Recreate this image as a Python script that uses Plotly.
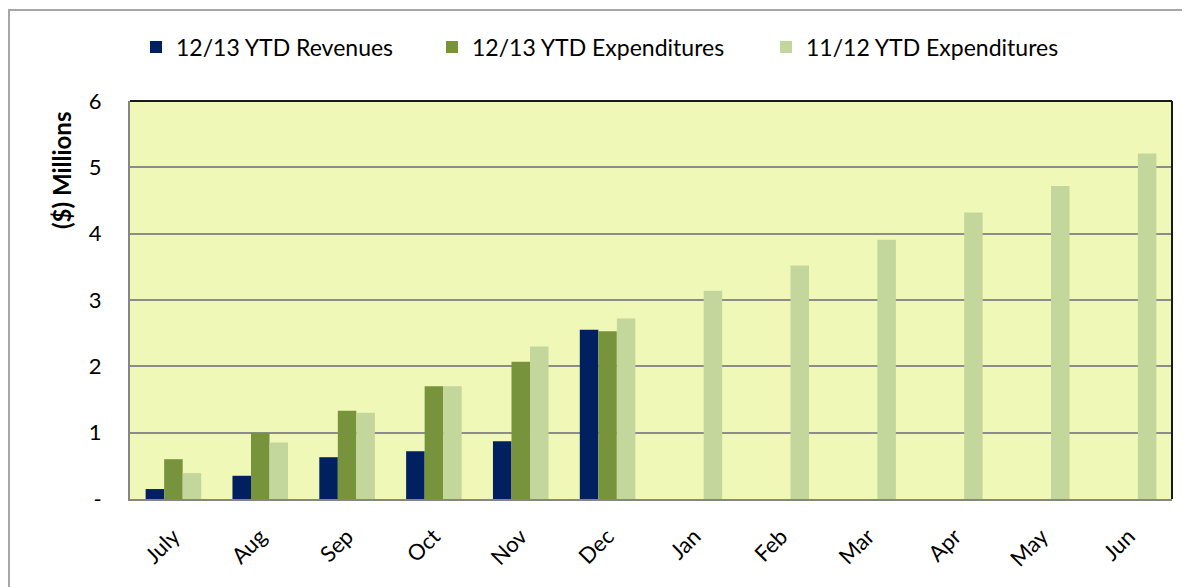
import plotly.graph_objects as go

months = ["July", "Aug", "Sep", "Oct", "Nov", "Dec", "Jan", "Feb", "Mar", "Apr", "May", "Jun"]
rev_1213 = [0.15, 0.35, 0.63, 0.72, 0.87, 2.55, None, None, None, None, None, None]
exp_1213 = [0.60, 1.00, 1.33, 1.70, 2.07, 2.53, None, None, None, None, None, None]
exp_1112 = [0.39, 0.85, 1.30, 1.70, 2.30, 2.72, 3.14, 3.52, 3.91, 4.32, 4.72, 5.21]
y_ticks = [0, 1, 2, 3, 4, 5, 6]
y_labels = ["-", "1", "2", "3", "4", "5", "6"]

# page has an 8px body margin, so the figure is shifted by 8px; work in reference px
OFF = 8
W, H = 1190 - OFF, 587 - OFF
L, R, T, B = 130 - OFF, 1172 - OFF, 101 - OFF, 499 - OFF
pw, ph = R - L, B - T

def px(x):
    return (x - OFF - L) / pw

def py(y):
    return (B - (y - OFF)) / ph

FONT = "Lato"

fig = go.Figure()
fig.add_trace(go.Bar(x=months, y=rev_1213, name="12/13 YTD Revenues", showlegend=True,
                     marker=dict(color="#002060", line=dict(width=0)), legend="legend"))
fig.add_trace(go.Bar(x=months, y=exp_1213, name="12/13 YTD Expenditures", showlegend=True,
                     marker=dict(color="#77933C", line=dict(width=0)), legend="legend2"))
fig.add_trace(go.Bar(x=months, y=exp_1112, name="11/12 YTD Expenditures", showlegend=True,
                     marker=dict(color="#C3D69B", line=dict(width=0)), legend="legend3"))

leg_common = dict(orientation="h", yanchor="middle", xanchor="left",
                  font=dict(family=FONT, size=23, color="#000000"),
                  bgcolor="rgba(0,0,0,0)", itemwidth=30, tracegroupgap=0)
legy = py(47)

fig.update_layout(
    width=W, height=H,
    margin=dict(l=L, r=W - R, t=T, b=H - B, pad=0, autoexpand=False),
    paper_bgcolor="#FFFFFF",
    plot_bgcolor="#F0F8B8",
    barmode="group",
    bargap=0.36,
    bargroupgap=0,
    showlegend=True,
    font=dict(family=FONT, color="#000000"),
    legend=dict(x=px(136), y=legy, **leg_common),
    legend2=dict(x=px(432), y=legy, **leg_common),
    legend3=dict(x=px(766), y=legy, **leg_common),
    xaxis=dict(
        showgrid=False, showline=True, linecolor="#868686", linewidth=2,
        tickangle=-45, tickfont=dict(family=FONT, size=22),
        ticks="", ticklabelstandoff=14,
    ),
    yaxis=dict(
        range=[0, 6], tickvals=y_ticks, ticktext=y_labels,
        showgrid=True, gridcolor="#8C8C8C", gridwidth=1.5,
        showline=True, linecolor="#868686", linewidth=2,
        zeroline=False, ticks="", ticklabelstandoff=22,
        tickfont=dict(family=FONT, size=22),
    ),
    annotations=[
        dict(text="<b>($) Millions</b>", xref="paper", yref="paper",
             x=px(61), y=py(171), xanchor="center", yanchor="middle",
             textangle=-90, showarrow=False,
             font=dict(family=FONT, size=24, color="#000000")),
    ],
    shapes=[
        dict(type="line", xref="paper", yref="paper", x0=0, x1=1, y0=1, y1=1,
             line=dict(color="#1A1A1A", width=2)),
        dict(type="line", xref="paper", yref="paper", x0=1, x1=1, y0=0, y1=1,
             line=dict(color="#1A1A1A", width=2)),
        dict(type="rect", xref="paper", yref="paper",
             x0=px(9), x1=px(1210), y0=py(10), y1=py(610),
             line=dict(color="#A6A6A6", width=2), layer="below"),
    ],
)

fig.write_html("out.html")
